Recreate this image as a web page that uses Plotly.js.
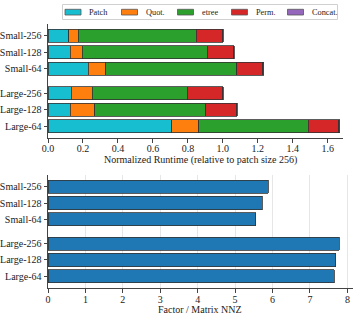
<!DOCTYPE html>
<html><head><meta charset="utf-8">
<script src="https://cdn.plot.ly/plotly-3.0.1.min.js"></script>
<style>html,body{margin:0;padding:0;background:#fff}#c{width:357px;height:315px}</style>
</head><body><div id="c"></div>
<script>
const categories = ["Large-64","Large-128","Large-256","Small-64","Small-128","Small-256"];
const positions = [0,1,2,3.5,4.5,5.5];
const seriesNames = ["Patch","Quot.","etree","Perm.","Concat."];
const patch  = [0.707,0.128,0.134,0.231,0.128,0.119];
const quot   = [0.155,0.138,0.118,0.100,0.069,0.055];
const etree  = [0.626,0.635,0.545,0.749,0.715,0.675];
const perm   = [0.175,0.179,0.203,0.149,0.149,0.151];
const concat = [0.006,0.002,0.002,0.006,0.003,0.003];
const factorNNZ = [7.65,7.69,7.78,5.55,5.73,5.89];
const xTicksTop = [0,0.2,0.4,0.6,0.8,1.0,1.2,1.4,1.6];
const xTicksBottom = [0,1,2,3,4,5,6,7,8];
const topTitle = "Normalized Runtime (relative to patch size 256)";
const bottomTitle = "Factor / Matrix NNZ";

const colors = ["#17becf","#ff7f0e","#2ca02c","#d62728","#9467bd"];
const serif = "Liberation Serif";
const W = 357, H = 315, ML = 48, MR = 4;
const PW = W - ML - MR;
const px = v => (v - ML) / PW;
const py = v => 1 - v / H;

const stacks = [patch,quot,etree,perm,concat];
const traces = stacks.map((v,i)=>({
  type:"bar", orientation:"h", name:seriesNames[i], x:v, y:positions,
  width:0.8, marker:{color:colors[i], line:{color:"#333", width:0.8}},
  xaxis:"x", yaxis:"y", showlegend:false
}));
traces.push({
  type:"bar", orientation:"h", x:factorNNZ, y:positions, width:0.8,
  marker:{color:"#1f77b4", line:{color:"#333", width:0.8}},
  xaxis:"x2", yaxis:"y2", showlegend:false
});

// manual legend (matplotlib-style wide handles)
const legendSymX = [65, 121.5, 177.5, 231.5, 287.5];
const shapes = [{type:"rect", xref:"paper", yref:"paper", x0:px(62.5), x1:px(337.5),
  y0:py(19.5), y1:py(4.5), line:{color:"#d0d0d0", width:1}, fillcolor:"#fff"}];
const annotations = [];
seriesNames.forEach((n,i)=>{
  const x0 = legendSymX[i];
  shapes.push({type:"rect", xref:"paper", yref:"paper", x0:px(x0), x1:px(x0+16),
    y0:py(15), y1:py(9.3), line:{color:"#555", width:0.8}, fillcolor:colors[i]});
  annotations.push({text:n, xref:"paper", yref:"paper", x:px(x0+22), y:py(12.2),
    xanchor:"left", yanchor:"middle", showarrow:false,
    font:{family:serif, size:8.3, color:"#222"}});
});

const axisFont = {family:serif, size:10, color:"#222"};
annotations.push(
  {text:topTitle, xref:"paper", yref:"paper", x:px(200), y:py(160),
   xanchor:"center", yanchor:"middle", showarrow:false, font:axisFont},
  {text:bottomTitle, xref:"paper", yref:"paper", x:px(200), y:py(309),
   xanchor:"center", yanchor:"middle", showarrow:false, font:axisFont}
);

const layout = {
  width:W, height:H, barmode:"stack", bargap:0,
  margin:{l:ML, r:MR, t:0, b:0},
  paper_bgcolor:"#fff", plot_bgcolor:"#fff",
  font:{family:serif, size:10, color:"#222"},
  showlegend:false,
  xaxis:{domain:[0,px(343)], range:[0,1.687], anchor:"y", tickvals:xTicksTop,
    ticktext:xTicksTop.map(v=>v.toFixed(1)), showline:true, linecolor:"#444",
    linewidth:1, ticks:"outside", ticklen:3.5, tickcolor:"#444", showgrid:false,
    zeroline:false, tickfont:axisFont, ticklabelstandoff:-3},
  yaxis:{domain:[py(138),py(24)], range:[-0.72,6.22], anchor:"x", tickvals:positions,
    ticktext:categories, showline:true, linecolor:"#444", linewidth:1, ticks:"outside",
    ticklen:3.5, tickcolor:"#444", showgrid:false, zeroline:false, tickfont:axisFont},
  xaxis2:{domain:[0,1], range:[0,8.15], anchor:"y2", tickvals:xTicksBottom,
    showline:true, linecolor:"#444", linewidth:1, ticks:"outside", ticklen:3.5,
    tickcolor:"#444", showgrid:true, gridcolor:"#e6e6e6", gridwidth:1, zeroline:false,
    tickfont:axisFont, ticklabelstandoff:-2},
  yaxis2:{domain:[py(288),py(175)], range:[-0.72,6.22], anchor:"x2", tickvals:positions,
    ticktext:categories, showline:true, linecolor:"#444", linewidth:1, ticks:"outside",
    ticklen:3.5, tickcolor:"#444", showgrid:false, zeroline:false, tickfont:axisFont},
  shapes:shapes,
  annotations:annotations
};
Plotly.newPlot("c", traces, layout, {displayModeBar:false, staticPlot:true});
</script></body></html>
